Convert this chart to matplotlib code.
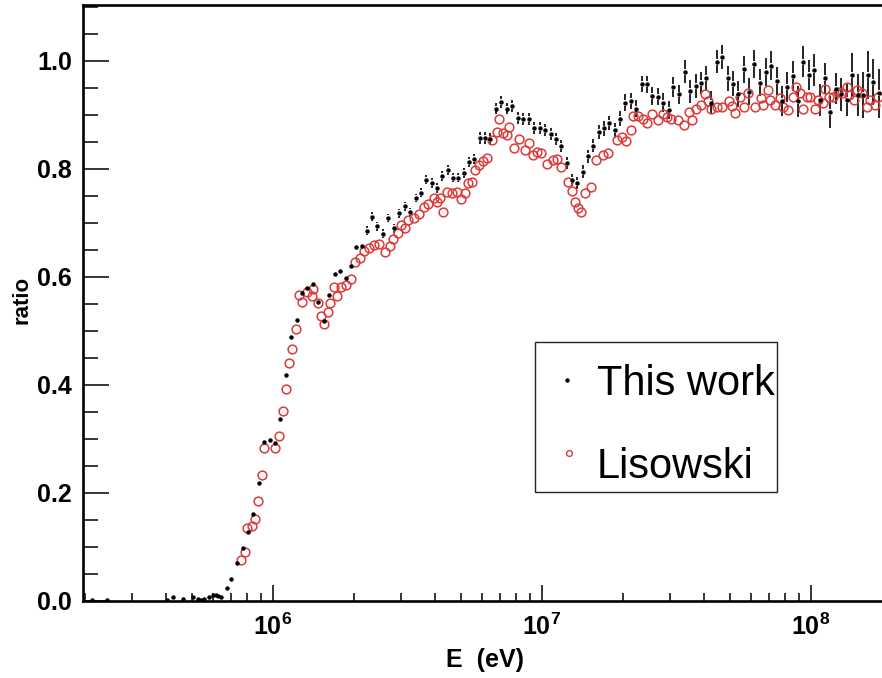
import numpy as np
import matplotlib
matplotlib.use("Agg")
import matplotlib.pyplot as plt
from matplotlib.lines import Line2D
from matplotlib.patches import Rectangle
from matplotlib.ticker import LogLocator, MultipleLocator, FuncFormatter, NullFormatter

plt.rcParams['font.family'] = ['Liberation Sans', 'DejaVu Sans']
plt.rcParams['mathtext.fontset'] = 'custom'
plt.rcParams['mathtext.rm'] = 'Liberation Sans'
plt.rcParams['mathtext.bf'] = 'Liberation Sans:bold'

# "This work": energy (eV), ratio, error
work_E = [2.12e5, 2.42e5, 4.04e5, 4.24e5, 4.64e5, 5.06e5, 5.28e5, 5.43e5, 5.56e5, 5.80e5,
          6.00e5, 6.14e5, 6.26e5, 6.41e5, 6.73e5, 7.02e5, 7.39e5, 7.72e5, 8.07e5, 8.45e5,
          8.87e5, 9.28e5, 9.74e5, 1.017e6, 1.068e6, 1.115e6, 1.172e6, 1.225e6, 1.282e6, 1.344e6,
          1.405e6, 1.474e6, 1.544e6, 1.618e6, 1.696e6, 1.775e6, 1.865e6, 1.946e6, 2.035e6, 2.137e6,
          2.231e6, 2.339e6, 2.446e6, 2.564e6, 2.683e6, 2.818e6, 2.949e6, 3.096e6, 3.231e6, 3.392e6,
          3.543e6, 3.715e6, 3.890e6, 4.060e6, 4.249e6, 4.461e6, 4.680e6, 4.885e6, 5.129e6, 5.363e6,
          5.598e6, 5.882e6, 6.140e6, 6.409e6, 6.729e6, 7.041e6, 7.393e6, 7.756e6, 8.123e6, 8.522e6,
          8.948e6, 9.363e6, 9.831e6, 1.026e7, 1.077e7, 1.124e7, 1.174e7, 1.235e7, 1.290e7, 1.353e7,
          1.417e7, 1.479e7, 1.551e7, 1.629e7, 1.703e7, 1.779e7, 1.867e7, 1.950e7, 2.035e7, 2.137e7,
          2.235e7, 2.347e7, 2.450e7, 2.570e7, 2.706e7, 2.825e7, 2.966e7, 3.077e7, 3.239e7, 3.401e7,
          3.550e7, 3.737e7, 3.890e7, 4.071e7, 4.249e7, 4.461e7, 4.656e7, 4.901e7, 5.129e7, 5.370e7,
          5.638e7, 5.899e7, 6.158e7, 6.465e7, 6.787e7, 7.101e7, 7.456e7, 7.782e7, 8.164e7, 8.551e7,
          8.970e7, 9.363e7, 9.831e7, 1.029e8, 1.080e8, 1.127e8, 1.177e8, 1.239e8, 1.293e8, 1.358e8,
          1.417e8, 1.492e8, 1.564e8, 1.625e8, 1.705e8, 1.790e8]
work_ratio = [0.002, 0.002, 0.002, 0.008, 0.003, 0.007, 0.003, 0.002, 0.003, 0.007,
              0.011, 0.012, 0.009, 0.008, 0.024, 0.040, 0.070, 0.098, 0.127, 0.162,
              0.218, 0.295, 0.299, 0.292, 0.337, 0.419, 0.488, 0.520, 0.571, 0.579,
              0.587, 0.553, 0.519, 0.567, 0.605, 0.612, 0.599, 0.621, 0.655, 0.658,
              0.686, 0.712, 0.694, 0.680, 0.709, 0.690, 0.718, 0.731, 0.720, 0.746,
              0.756, 0.780, 0.774, 0.765, 0.787, 0.798, 0.784, 0.784, 0.793, 0.813,
              0.818, 0.857, 0.857, 0.855, 0.912, 0.924, 0.912, 0.917, 0.895, 0.892,
              0.892, 0.876, 0.876, 0.873, 0.864, 0.855, 0.843, 0.811, 0.780, 0.774,
              0.795, 0.824, 0.843, 0.869, 0.875, 0.886, 0.872, 0.893, 0.923, 0.926,
              0.912, 0.957, 0.957, 0.935, 0.934, 0.923, 0.909, 0.952, 0.938, 0.980,
              0.944, 0.954, 0.959, 0.968, 0.923, 0.999, 1.008, 0.968, 0.958, 0.939,
              0.985, 0.943, 0.994, 0.960, 0.980, 0.991, 0.963, 0.926, 0.952, 0.972,
              0.925, 0.999, 0.974, 0.983, 0.928, 0.968, 0.906, 0.949, 0.938, 0.928,
              0.974, 0.937, 0.937, 0.974, 0.961, 0.940]
work_err = [0.003] * 14 + \
           [0.004, 0.004, 0.004, 0.004, 0.004, 0.004, 0.004, 0.004, 0.004, 0.004,
            0.004, 0.004, 0.004, 0.004, 0.004, 0.004, 0.004, 0.004, 0.004, 0.004,
            0.005, 0.005, 0.005, 0.005, 0.005, 0.005,
            0.008, 0.008, 0.008, 0.008, 0.008, 0.008, 0.008, 0.008, 0.008, 0.008,
            0.008, 0.008, 0.009, 0.009, 0.009, 0.009, 0.009, 0.009, 0.009, 0.009, 0.009,
            0.011, 0.011, 0.011, 0.011, 0.011, 0.011, 0.011, 0.011, 0.011, 0.011,
            0.011, 0.011, 0.011, 0.011, 0.011, 0.011, 0.011, 0.011, 0.011, 0.012,
            0.012, 0.012, 0.013, 0.013, 0.013, 0.014, 0.014,
            0.015, 0.015, 0.015, 0.015, 0.016, 0.016, 0.016, 0.017, 0.017, 0.018, 0.018,
            0.021, 0.021, 0.022, 0.021, 0.022, 0.022, 0.021, 0.022, 0.023, 0.023,
            0.024, 0.025, 0.025, 0.026, 0.025, 0.026, 0.027, 0.026, 0.027, 0.028, 0.028,
            0.028, 0.029, 0.028, 0.030, 0.029, 0.028, 0.030, 0.029, 0.030, 0.029,
            0.040, 0.038, 0.042, 0.044, 0.043, 0.045]

# Lisowski: energy (eV), ratio
lis_E = [7.62e5, 7.89e5, 8.00e5, 8.36e5, 8.59e5, 8.80e5, 9.10e5, 9.31e5, 1.020e6, 1.055e6,
         1.087e6, 1.118e6, 1.147e6, 1.177e6, 1.218e6, 1.256e6, 1.285e6, 1.341e6, 1.393e6, 1.409e6,
         1.466e6, 1.508e6, 1.548e6, 1.597e6, 1.629e6, 1.686e6, 1.725e6, 1.794e6, 1.863e6, 1.945e6,
         2.018e6, 2.105e6, 2.184e6, 2.28e6, 2.38e6, 2.48e6, 2.61e6, 2.72e6, 2.80e6, 2.91e6,
         2.99e6, 3.10e6, 3.19e6, 3.35e6, 3.50e6, 3.65e6, 3.79e6, 3.97e6, 4.06e6, 4.18e6,
         4.28e6, 4.43e6, 4.62e6, 4.82e6, 5.00e6, 5.17e6, 5.30e6, 5.48e6, 5.66e6, 5.86e6,
         6.04e6, 6.28e6, 6.52e6, 6.80e6, 6.92e6, 7.18e6, 7.39e6, 7.54e6, 7.89e6, 8.24e6,
         8.65e6, 8.95e6, 9.24e6, 9.56e6, 9.97e6, 1.047e7, 1.101e7, 1.134e7, 1.174e7, 1.253e7,
         1.290e7, 1.327e7, 1.365e7, 1.393e7, 1.445e7, 1.521e7, 1.588e7, 1.690e7, 1.765e7, 1.896e7,
         1.979e7, 2.053e7, 2.14e7, 2.185e7, 2.27e7, 2.37e7, 2.46e7, 2.56e7, 2.71e7, 2.81e7,
         2.92e7, 3.03e7, 3.21e7, 3.38e7, 3.53e7, 3.60e7, 3.74e7, 3.92e7, 4.04e7, 4.15e7,
         4.27e7, 4.46e7, 4.66e7, 4.97e7, 5.07e7, 5.24e7, 5.45e7, 5.64e7, 5.85e7, 6.19e7,
         6.50e7, 6.65e7, 6.90e7, 7.04e7, 7.35e7, 7.67e7, 7.89e7, 8.24e7, 8.55e7, 8.80e7,
         9.10e7, 9.36e7, 9.64e7, 9.91e7, 1.035e8, 1.065e8, 1.111e8, 1.127e8, 1.169e8, 1.21e8,
         1.264e8, 1.30e8, 1.358e8, 1.388e8, 1.445e8, 1.479e8, 1.544e8, 1.611e8, 1.657e8, 1.73e8,
         1.779e8]
lis_ratio = [0.075, 0.091, 0.135, 0.139, 0.152, 0.186, 0.233, 0.284, 0.283, 0.306,
             0.352, 0.392, 0.441, 0.467, 0.503, 0.567, 0.553, 0.572, 0.565, 0.578,
             0.551, 0.528, 0.513, 0.536, 0.551, 0.582, 0.565, 0.581, 0.585, 0.596,
             0.628, 0.635, 0.649, 0.653, 0.659, 0.661, 0.647, 0.657, 0.670, 0.682,
             0.696, 0.690, 0.706, 0.709, 0.717, 0.730, 0.736, 0.746, 0.739, 0.746,
             0.721, 0.758, 0.755, 0.757, 0.744, 0.755, 0.774, 0.776, 0.798, 0.807,
             0.815, 0.820, 0.854, 0.869, 0.892, 0.866, 0.863, 0.877, 0.838, 0.855,
             0.836, 0.848, 0.826, 0.832, 0.830, 0.809, 0.817, 0.818, 0.803, 0.776,
             0.760, 0.739, 0.727, 0.721, 0.755, 0.767, 0.817, 0.826, 0.830, 0.854,
             0.860, 0.851, 0.872, 0.898, 0.898, 0.892, 0.886, 0.902, 0.891, 0.902,
             0.896, 0.893, 0.891, 0.881, 0.906, 0.891, 0.912, 0.919, 0.939, 0.925,
             0.912, 0.915, 0.915, 0.926, 0.917, 0.903, 0.933, 0.915, 0.941, 0.915,
             0.931, 0.919, 0.946, 0.928, 0.919, 0.931, 0.915, 0.909, 0.933, 0.952,
             0.940, 0.912, 0.934, 0.933, 0.912, 0.928, 0.922, 0.949, 0.934, 0.934,
             0.943, 0.940, 0.952, 0.937, 0.928, 0.946, 0.940, 0.915, 0.928, 0.919,
             0.934]

legend_labels = ['This work', 'Lisowski']
red = '#dc3a3a'

wE = np.array(work_E)
wr = np.array(work_ratio)
we = np.array(work_err)

W, H = 882, 678
fig = plt.figure(figsize=(W / 100, H / 100), dpi=100)
ax = fig.add_axes([83 / W, 77 / H, 820 / W, 596 / H])
ax.set_xscale('log')
ax.set_xlim(1.97e5, 2.2e8)
ax.set_ylim(0, 1.1037)

# error bars with a gap around the marker, like ROOT draws them
gap = 0.0055
m = we > gap
ax.vlines(wE[m], wr[m] + gap, wr[m] + we[m], color='k', lw=1.2)
ax.vlines(wE[m], wr[m] - we[m], wr[m] - gap, color='k', lw=1.2)
ax.plot(wE, wr, 'o', ms=2.2, color='k', ls='none', zorder=3)
ax.plot(lis_E, lis_ratio, 'o', ms=6.3, mfc='none', mec=red, mew=1.1, ls='none', zorder=2)

ax.xaxis.set_major_locator(LogLocator(base=10, numticks=10))
ax.xaxis.set_minor_locator(LogLocator(base=10, subs=np.arange(2, 10), numticks=20))
ax.xaxis.set_minor_formatter(NullFormatter())
ax.xaxis.set_major_formatter(FuncFormatter(lambda v, p: r'$\mathbf{10^{%d}}$' % round(np.log10(v))))
ax.yaxis.set_major_locator(MultipleLocator(0.2))
ax.yaxis.set_minor_locator(MultipleLocator(0.05))
ax.yaxis.set_major_formatter(FuncFormatter(lambda v, p: '%.1f' % v))

ax.tick_params(which='both', direction='in', top=False, right=False, width=1.1)
ax.tick_params(axis='x', which='major', length=11.5, labelsize=18, pad=9)
ax.tick_params(axis='x', which='minor', length=5.8)
ax.tick_params(axis='y', which='major', length=18.5, labelsize=18, pad=8)
ax.tick_params(axis='y', which='minor', length=10.5)
plt.setp(ax.get_yticklabels(), fontweight='bold')
for s in ax.spines.values():
    s.set_linewidth(1.9)

ax.set_xlabel('E  (eV)', fontsize=18, fontweight='bold')
ax.set_ylabel('ratio', fontsize=16, fontweight='bold')
ax.xaxis.set_label_coords(0.49, -0.079)
ax.yaxis.set_label_coords(-0.062, 0.505)

# legend box drawn by hand (ROOT TLegend look)
fig.add_artist(Rectangle((535 / W, 1 - 492 / H), 242 / W, 150 / H, transform=fig.transFigure,
                         facecolor='white', edgecolor='#222222', lw=1.0, zorder=5))
fig.add_artist(Line2D([567 / W], [1 - 380 / H], marker='o', ms=2.2, color='k', ls='none',
                      transform=fig.transFigure, zorder=6))
fig.add_artist(Line2D([569 / W], [1 - 453 / H], marker='o', ms=4.2, mfc='none', mec=red,
                      mew=1.0, ls='none', transform=fig.transFigure, zorder=6))
fig.text(597 / W, 1 - 395 / H, legend_labels[0], fontsize=30, va='baseline', ha='left', zorder=6)
fig.text(597 / W, 1 - 478 / H, legend_labels[1], fontsize=30, va='baseline', ha='left', zorder=6)

fig.savefig('out.png', dpi=100)
